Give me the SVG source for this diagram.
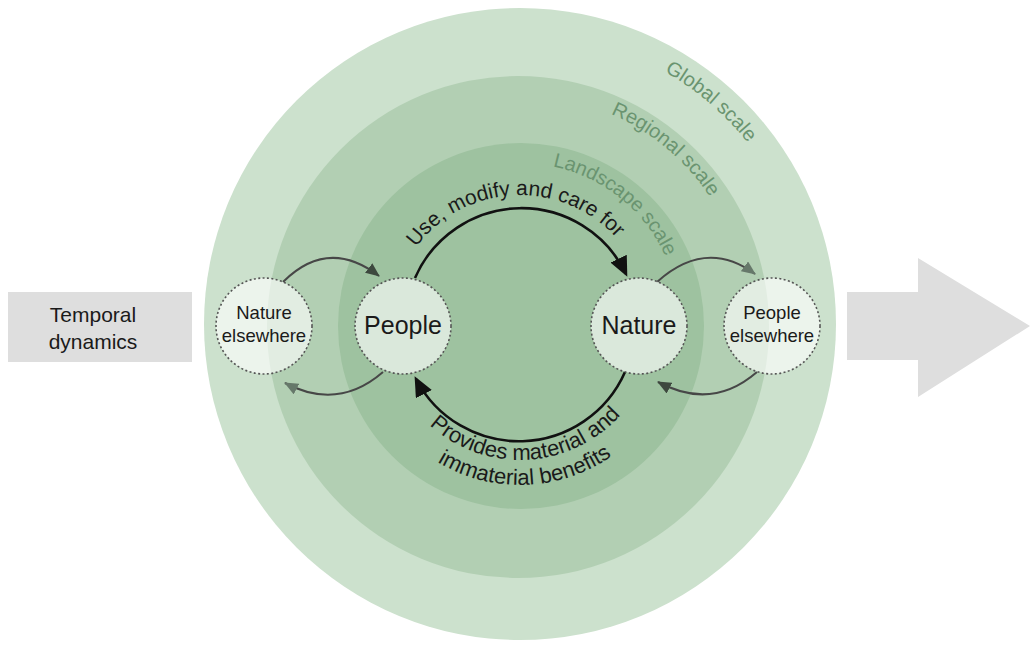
<svg xmlns="http://www.w3.org/2000/svg" width="1030" height="646" viewBox="0 0 1030 646">
<style>
  .t { font-family: "Liberation Sans", Arial, sans-serif; fill: #1a1a1a; }
  .scale { font-family: "Liberation Sans", Arial, sans-serif; font-size: 20px; fill: #6a9470; }
  .node { fill: #ffffff; fill-opacity: 0.62; stroke: #555; stroke-width: 1.6; stroke-dasharray: 2 2.4; }
  .big { fill: none; stroke: #111; stroke-width: 2.6; }
  .small { fill: none; stroke: #474747; stroke-width: 2; }
  .gray { fill: #dedede; }
</style>
<defs>
  <marker id="bigHead" viewBox="0 0 20 18" refX="17" refY="9" markerWidth="20" markerHeight="18" markerUnits="userSpaceOnUse" orient="auto">
    <path d="M0,0 L20,9 L0,18 z" fill="#111"/>
  </marker>
  <marker id="darkHead" viewBox="0 0 14 12" refX="13" refY="6" markerWidth="14" markerHeight="12" markerUnits="userSpaceOnUse" orient="auto">
    <path d="M0,0 L14,6 L0,12 z" fill="#3d483e"/>
  </marker>
  <marker id="lightHead" viewBox="0 0 14 12" refX="13" refY="6" markerWidth="14" markerHeight="12" markerUnits="userSpaceOnUse" orient="auto">
    <path d="M0,0 L14,6 L0,12 z" fill="#66786a"/>
  </marker>
  <path id="pGlobal" d="M 664.6 71.5 A 291 291 0 0 1 806.6 273.5"/>
  <path id="pRegional" d="M 610.9 113.9 A 228 228 0 0 1 747.1 303.1"/>
  <path id="pLandscape" d="M 552.7 166.3 A 160 160 0 0 1 680 323"/>
  <path id="pTop" d="M 391.1 308.5 A 130 130 0 0 1 646.8 296.4"/>
  <path id="pBot1" d="M 388.5 355.4 A 135 135 0 0 0 654.0 341.5"/>
  <path id="pBot2" d="M 363.5 358.3 A 160 160 0 0 0 678.4 347.3"/>
</defs>

<g id="temporal-dynamics">
  <rect class="gray" x="8" y="292" width="184" height="70"/>
  <text class="t" font-size="21" text-anchor="middle"><tspan x="93" y="322">Temporal</tspan><tspan x="93" y="349">dynamics</tspan></text>
</g>
<g id="time-arrow">
  <polygon class="gray" points="847,292 918,292 918,258 1030,326 918,397 918,360 847,360"/>
</g>

<g id="scales">
  <circle cx="520" cy="324" r="316" fill="#cce1cd"/>
  <circle cx="518" cy="327" r="251" fill="#b2cfb3"/>
  <circle cx="521" cy="326" r="183" fill="#9ec2a0"/>
  <text class="scale"><textPath href="#pGlobal">Global scale</textPath></text>
  <text class="scale"><textPath href="#pRegional">Regional scale</textPath></text>
  <text class="scale" fill="#72a078"><textPath href="#pLandscape">Landscape scale</textPath></text>
</g>

<g id="connectors">
  <path class="big" d="M 415 278 A 116 116 0 0 1 626 274" marker-end="url(#bigHead)"/>
  <path class="big" d="M 625 372 A 116 116 0 0 1 416 379" marker-end="url(#bigHead)"/>
  <path class="small" d="M 283 282 Q 328 237 379 276" marker-end="url(#darkHead)"/>
  <path class="small" d="M 383 372 Q 338 411 285 383" marker-end="url(#lightHead)"/>
  <path class="small" d="M 657 282 Q 706 238 755 274" marker-end="url(#lightHead)"/>
  <path class="small" d="M 757 372 Q 712 411 658 382" marker-end="url(#darkHead)"/>
  <text class="t" font-size="21"><textPath href="#pTop" startOffset="50%" text-anchor="middle">Use, modify and care for</textPath></text>
  <text class="t" font-size="22"><textPath href="#pBot1" startOffset="50%" text-anchor="middle">Provides material and</textPath></text>
  <text class="t" font-size="22"><textPath href="#pBot2" startOffset="50%" text-anchor="middle">immaterial benefits</textPath></text>
</g>

<g id="nature-elsewhere">
  <circle class="node" cx="264" cy="326" r="48"/>
  <text class="t" font-size="18.5" text-anchor="middle"><tspan x="264" y="319">Nature</tspan><tspan x="264" y="342">elsewhere</tspan></text>
</g>
<g id="people">
  <circle class="node" cx="403" cy="326" r="48"/>
  <text class="t" font-size="25" text-anchor="middle" x="403" y="334">People</text>
</g>
<g id="nature">
  <circle class="node" cx="639" cy="326" r="48"/>
  <text class="t" font-size="25" text-anchor="middle" x="639" y="334">Nature</text>
</g>
<g id="people-elsewhere">
  <circle class="node" cx="772" cy="326" r="48"/>
  <text class="t" font-size="18.5" text-anchor="middle"><tspan x="772" y="319">People</tspan><tspan x="772" y="342">elsewhere</tspan></text>
</g>
</svg>
